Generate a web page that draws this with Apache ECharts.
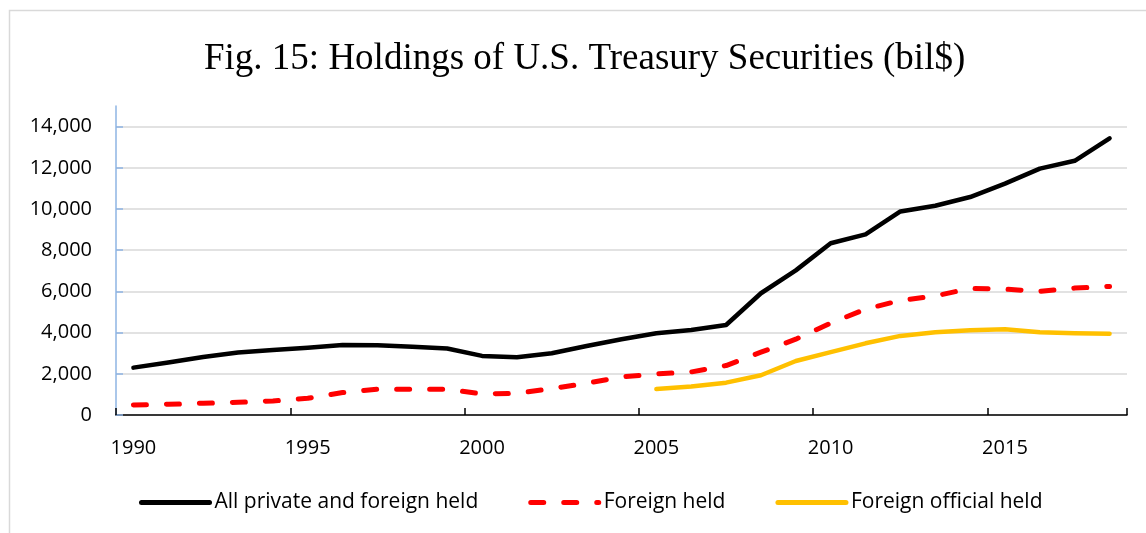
<!DOCTYPE html>
<html>
<head>
<meta charset="utf-8">
<script src="https://cdn.jsdelivr.net/npm/echarts@6/dist/echarts.min.js"></script>
<style>
html,body{margin:0;padding:0;background:#fff;}
#chart{width:1146px;height:533px;}
</style>
</head>
<body>
<div id="chart"></div>
<script>
const years = ['1990','1991','1992','1993','1994','1995','1996','1997','1998','1999','2000','2001','2002','2003','2004','2005','2006','2007','2008','2009','2010','2011','2012','2013','2014','2015','2016','2017','2018'];
const allPrivateForeign = [2300,2550,2820,3030,3150,3260,3400,3390,3310,3230,2870,2800,3000,3350,3680,3970,4130,4370,5910,7020,8340,8770,9880,10160,10580,11230,11960,12340,13430];
const foreignHeld = [490,520,570,620,680,810,1090,1250,1250,1250,1020,1050,1280,1540,1850,1990,2090,2400,3050,3680,4460,5140,5560,5780,6140,6110,6000,6160,6240];
const foreignOfficial = [null,null,null,null,null,null,null,null,null,null,null,null,null,null,null,1260,1380,1570,1930,2620,3050,3480,3840,4020,4110,4160,4020,3970,3950];
const seriesNames = ['All private and foreign held','Foreign held','Foreign official held'];
const titleText = 'Fig. 15: Holdings of U.S. Treasury Securities (bil$)';

const chart = echarts.init(document.getElementById('chart'), null, {renderer:'canvas'});
const sansFont = '"Open Sans", "Liberation Sans", sans-serif';
chart.setOption({
  animation:false,
  backgroundColor:'#fff',
  graphic:[{
    type:'rect', silent:true,
    shape:{x:9.5,y:10.5,width:1200,height:600},
    style:{fill:'none',stroke:'#d9d9d9',lineWidth:1.5}
  }],
  title:{
    text:titleText,
    left:199, top:36,
    textStyle:{fontFamily:'"Liberation Serif", "Times New Roman", serif',fontSize:37,fontWeight:'normal',color:'#000'}
  },
  legend:{
    left:134, top:487,
    itemWidth:68, itemHeight:24, itemGap:50,
    itemStyle:{opacity:0},
    lineStyle:{width:5},
    textStyle:{fontFamily:sansFont,fontSize:21,color:'#000'},
    data:seriesNames
  },
  grid:{left:116,right:19,top:106,bottom:118,containLabel:false},
  xAxis:{
    type:'category',
    data:years,
    boundaryGap:true,
    axisLine:{lineStyle:{color:'#000',width:1.5}},
    axisTick:{show:true,inside:true,length:7,interval:4,lineStyle:{color:'#000',width:1.5}},
    axisLabel:{interval:4,margin:23,fontFamily:sansFont,fontSize:20,color:'#000'},
    splitLine:{show:false}
  },
  yAxis:{
    type:'value',
    min:0,max:15000,interval:2000,
    axisLine:{show:true,lineStyle:{color:'#8EB4E3',width:1.5}},
    axisTick:{show:true,inside:true,length:7,lineStyle:{color:'#8EB4E3',width:1.5}},
    axisLabel:{margin:24,fontFamily:sansFont,fontSize:20,color:'#000',showMaxLabel:false,
      formatter:function(v){return v.toLocaleString('en-US');}},
    splitLine:{show:true,showMaxLine:false,lineStyle:{color:'#d9d9d9',width:1.5}}
  },
  series:[
    {name:seriesNames[0],type:'line',data:allPrivateForeign,showSymbol:false,symbol:'none',
      lineStyle:{color:'#000',width:4.5,cap:'round',join:'round'},itemStyle:{color:'#000'}},
    {name:seriesNames[1],type:'line',data:foreignHeld,showSymbol:false,symbol:'none',
      lineStyle:{color:'#FF0000',width:5,type:[13,20],cap:'round',join:'round'},itemStyle:{color:'#FF0000'}},
    {name:seriesNames[2],type:'line',data:foreignOfficial,showSymbol:false,symbol:'none',connectNulls:false,
      lineStyle:{color:'#FFC000',width:4.5,cap:'round',join:'round'},itemStyle:{color:'#FFC000'}}
  ]
});
</script>
</body>
</html>
